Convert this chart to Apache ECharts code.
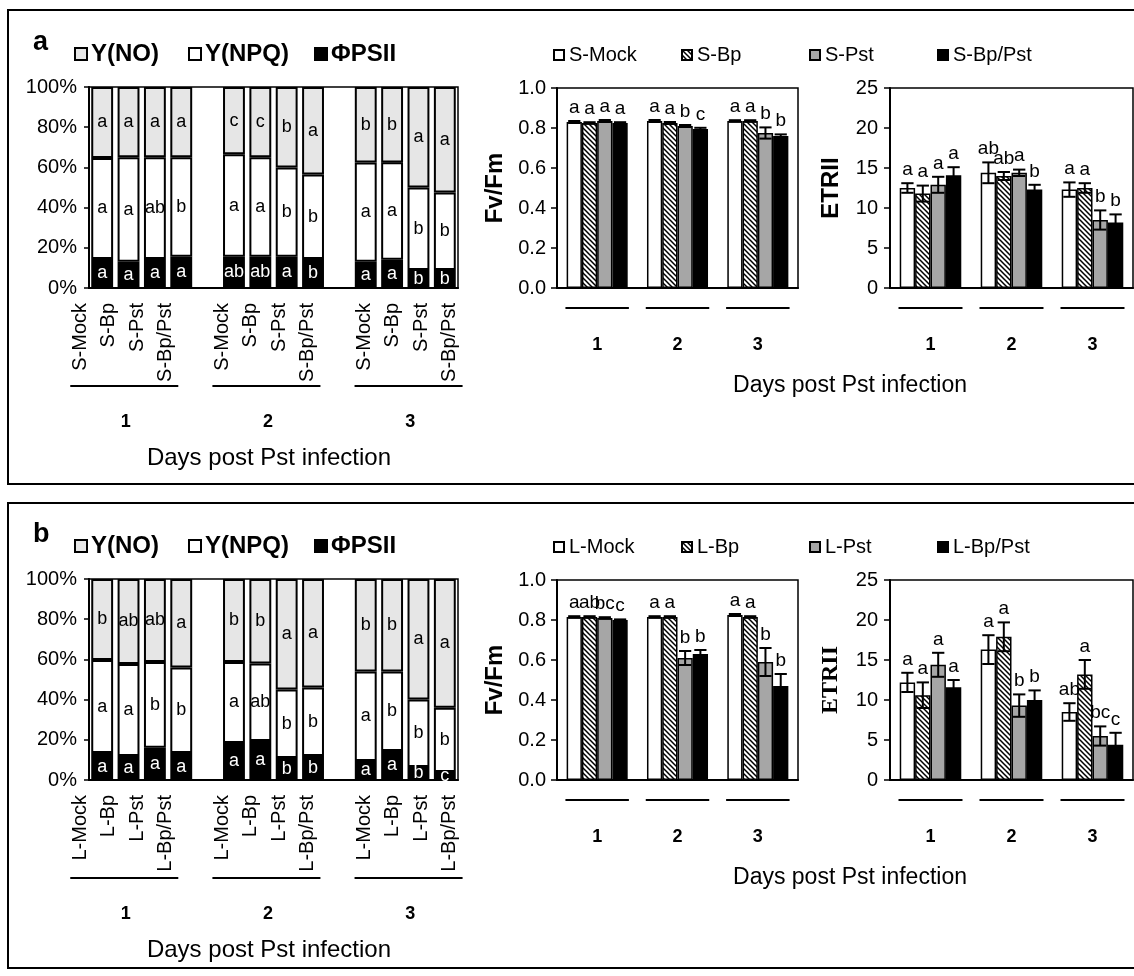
<!DOCTYPE html>
<html><head><meta charset="utf-8">
<script src="https://cdn.jsdelivr.net/npm/echarts@6/dist/echarts.min.js"></script>
<style>html,body{margin:0;padding:0;background:#fff}#c{width:1134px;height:976px}</style>
</head><body><div id="c"></div>
<script>
// ---------- DATA ----------
const stackCatsA = ['S-Mock','S-Bp','S-Pst','S-Bp/Pst','','S-Mock','S-Bp','S-Pst','S-Bp/Pst','','S-Mock','S-Bp','S-Pst','S-Bp/Pst'];
const stackCatsB = ['L-Mock','L-Bp','L-Pst','L-Bp/Pst','','L-Mock','L-Bp','L-Pst','L-Bp/Pst','','L-Mock','L-Bp','L-Pst','L-Bp/Pst'];
const groupNames = ['1','2','3'];
const groupStart = [0,5,10];
const groupEnd = [3,8,13];

// panel a stacked (%)
const psiiA = [14.4,13,14.4,15.5,'-',15.5,15.5,15.5,14.4,'-',13,14,9,9];
const npqA  = [50.3,52,50.6,49.5,'-',51,49.5,44.5,42.1,'-',49.5,48.5,41,38.5];
const noA   = [35.3,35,35,35,'-',33.5,35,40,43.5,'-',37.5,37.5,50,52.5];
const psiiLetA = ['a','a','a','a','','ab','ab','a','b','','a','a','b','b'];
const npqLetA  = ['a','a','ab','b','','a','a','b','b','','a','a','b','b'];
const noLetA   = ['a','a','a','a','','c','c','b','a','','b','b','a','a'];

// panel b stacked (%)
const psiiB = [13.4,12,16,13.4,'-',18.4,19.4,11,12,'-',9.5,14.4,6.5,4];
const npqB  = [46.3,45.7,42.7,42.6,'-',40.3,38.6,34,34,'-',44.5,39.6,33.5,32];
const noB   = [40.3,42.3,41.3,44,'-',41.3,42,55,54,'-',46,46,60,64];
const psiiLetB = ['a','a','a','a','','a','a','b','b','','a','a','b','c'];
const npqLetB  = ['a','a','b','b','','a','ab','b','b','','a','b','b','b'];
const noLetB   = ['b','ab','ab','a','','b','b','a','a','','b','b','a','a'];

const days = ['1','2','3'];

// panel a Fv/Fm
const fvA_Mock = [0.83,0.835,0.835],  fvA_MockErr = [0.005,0.005,0.004];
const fvA_Bp   = [0.825,0.825,0.835], fvA_BpErr   = [0.004,0.005,0.004];
const fvA_Pst  = [0.835,0.81,0.775],  fvA_PstErr  = [0.005,0.005,0.028];
const fvA_BpPst= [0.825,0.795,0.76],  fvA_BpPstErr= [0.004,0.006,0.008];
const fvA_Let  = [['a','a','a'],['a','a','a'],['a','b','b'],['a','c','b']];

// panel a ETRII
const etA_Mock = [12.5,14.4,12.3], etA_MockErr = [0.6,1.3,0.9];
const etA_Bp   = [11.8,14.0,12.5], etA_BpErr   = [1.0,0.5,0.6];
const etA_Pst  = [12.9,14.4,8.5],  etA_PstErr  = [1.0,0.4,1.2];
const etA_BpPst= [14.1,12.3,8.2],  etA_BpPstErr= [1.0,0.6,1.0];
const etA_Let  = [['a','ab','a'],['a','ab','a'],['a','a','b'],['a','b','b']];

// panel b Fv/Fm
const fvB_Mock = [0.815,0.815,0.825], fvB_MockErr = [0.004,0.004,0.005];
const fvB_Bp   = [0.815,0.815,0.815], fvB_BpErr   = [0.004,0.004,0.004];
const fvB_Pst  = [0.81,0.61,0.59],    fvB_PstErr  = [0.004,0.035,0.07];
const fvB_BpPst= [0.80,0.63,0.47],    fvB_BpPstErr= [0.003,0.02,0.06];
const fvB_Let  = [['a','a','a'],['ab','a','a'],['bc','b','b'],['c','b','b']];

// panel b ETRII
const etB_Mock = [12.2,16.3,8.5],  etB_MockErr = [1.2,1.8,1.1];
const etB_Bp   = [10.6,17.9,13.2], etB_BpErr   = [1.6,1.8,1.8];
const etB_Pst  = [14.4,9.3,5.5],   etB_PstErr  = [1.5,1.4,1.2];
const etB_BpPst= [11.6,10.0,4.4],  etB_BpPstErr= [0.9,1.2,1.5];
const etB_Let  = [['a','a','ab'],['a','a','a'],['a','b','bc'],['a','b','c']];

// ---------- STYLE / LAYOUT ----------
const FF = '"Liberation Sans", Arial, Helvetica, sans-serif';
const SERIF = '"Liberation Serif", "Times New Roman", serif';

function hatchCanvas(){
  const s = 5;
  const c = document.createElement('canvas'); c.width = s; c.height = s;
  const g = c.getContext('2d');
  g.fillStyle = '#fff'; g.fillRect(0,0,s,s);
  g.strokeStyle = '#000'; g.lineWidth = 1.5;
  g.beginPath();
  g.moveTo(-1,-1); g.lineTo(s+1,s+1);
  g.moveTo(-1,s-1); g.lineTo(1,s+1);
  g.moveTo(s-1,-1); g.lineTo(s+1,1);
  g.stroke();
  return c;
}
const HATCH = {image: hatchCanvas(), repeat: 'repeat'};
const barFills = ['#ffffff', HATCH, '#a6a6a6', '#000000'];
const CAT_GAP = 0.24;

const option = {animation:false, backgroundColor:'#fff', grid:[], xAxis:[], yAxis:[], series:[], legend:[], graphic:[]};

function errSeries(xi, yi, means, errs, letters){
  const data = [], lets = [];
  for (let c = 0; c < 3; c++) for (let j = 0; j < 4; j++) { data.push([c, j, means[j][c], errs[j][c]]); lets.push(letters[j][c]); }
  return {
    type:'custom', xAxisIndex:xi, yAxisIndex:yi, coordinateSystem:'cartesian2d', clip:false, silent:true, z:10,
    encode:{x:0, y:2}, data,
    renderItem:(params, api) => {
      const c = api.value(0), j = api.value(1), m = api.value(2), e = api.value(3);
      const bw = api.size([1,0])[0];
      const barW = bw * (1 - CAT_GAP) / 4;
      const cx = api.coord([c, m])[0] + (j - 1.5) * barW;
      const yt = api.coord([c, m + e])[1], yb = api.coord([c, m - e])[1];
      const h = barW * 0.4;
      const ls = {stroke:'#000', lineWidth:2};
      return {type:'group', children:[
        {type:'line', shape:{x1:cx, y1:yt, x2:cx, y2:yb}, style:ls},
        {type:'line', shape:{x1:cx-h, y1:yt, x2:cx+h, y2:yt}, style:ls},
        {type:'line', shape:{x1:cx-h, y1:yb, x2:cx+h, y2:yb}, style:ls},
        {type:'text', style:{text:lets[params.dataIndex], x:cx, y:yt-4, align:'center', verticalAlign:'bottom', fontSize:19, fontFamily:FF, fill:'#000'}}
      ]};
    }
  };
}

function underlineSeries(xi, yi){
  return {
    type:'custom', xAxisIndex:xi, yAxisIndex:yi, coordinateSystem:'cartesian2d', clip:false, silent:true,
    encode:{x:0, y:1}, data:[[0,0],[1,0],[2,0]],
    renderItem:(params, api) => {
      const p = api.coord([api.value(0), 0]);
      const bw = api.size([1,0])[0];
      return {type:'line', shape:{x1:p[0]-0.395*bw, y1:p[1]+20, x2:p[0]+0.395*bw, y2:p[1]+20}, style:{stroke:'#000', lineWidth:2}};
    }
  };
}

function addPanel(P){
  const dy = P.dy;
  const g0 = option.grid.length, xi = option.xAxis.length, yi = option.yAxis.length;
  option.grid.push({left:89, top:87+dy, width:369, height:201, show:true, borderColor:'#000', borderWidth:1.5});
  option.grid.push({left:66, top:87+dy, width:398, height:201, show:false});
  option.grid.push({left:557, top:88+dy, width:241, height:200, show:true, borderColor:'#000', borderWidth:1.5});
  option.grid.push({left:890, top:88+dy, width:243, height:200, show:true, borderColor:'#000', borderWidth:1.5});

  const axLine = {show:true, lineStyle:{color:'#000', width:2}};
  // stacked main
  option.xAxis.push({gridIndex:g0, type:'category', data:P.cats, axisLine:axLine, axisTick:{show:false}, axisLabel:{show:false}});
  option.yAxis.push({gridIndex:g0, type:'value', min:0, max:100, interval:20, axisLine:axLine,
    axisTick:{show:true, length:5, lineStyle:{color:'#000', width:1.5}}, splitLine:{show:false},
    axisLabel:{formatter:'{value}%', fontSize:20, fontFamily:FF, color:'#000', margin:12}});
  // label grid
  option.xAxis.push({gridIndex:g0+1, type:'category', data:P.cats, axisLine:{show:false}, axisTick:{show:false},
    axisLabel:{interval:0, rotate:90, margin:15, fontSize:20, fontFamily:FF, color:'#000'}});
  option.yAxis.push({gridIndex:g0+1, type:'value', min:0, max:100, show:false});
  // Fv/Fm
  option.xAxis.push({gridIndex:g0+2, type:'category', data:days, axisLine:axLine, axisTick:{show:false},
    axisLabel:{margin:48, fontSize:18, fontWeight:'bold', fontFamily:FF, color:'#000'}});
  option.yAxis.push({gridIndex:g0+2, type:'value', min:0, max:1, interval:0.2, axisLine:axLine,
    axisTick:{show:true, length:6, lineStyle:{color:'#000', width:1.5}}, splitLine:{show:false},
    axisLabel:{formatter:v => v.toFixed(1), fontSize:20, fontFamily:FF, color:'#000', margin:11},
    name:'Fv/Fm', nameLocation:'middle', nameGap:50, nameTextStyle:{fontSize:24, fontWeight:'bold', fontFamily:FF, color:'#000'}});
  // ETRII
  option.xAxis.push({gridIndex:g0+3, type:'category', data:days, axisLine:axLine, axisTick:{show:false},
    axisLabel:{margin:48, fontSize:18, fontWeight:'bold', fontFamily:FF, color:'#000'}});
  option.yAxis.push({gridIndex:g0+3, type:'value', min:0, max:25, interval:5, axisLine:axLine,
    axisTick:{show:true, length:6, lineStyle:{color:'#000', width:1.5}}, splitLine:{show:false},
    axisLabel:{fontSize:20, fontFamily:FF, color:'#000', margin:12},
    name:'ETRII', nameLocation:'middle', nameGap:47, nameTextStyle:{fontSize:24, fontWeight:'bold', fontFamily:P.etrFont, color:'#000'}});

  // stacked series (bottom to top)
  [['ΦPSII', P.psii, '#000', P.psiiLet, '#fff'],
   ['Y(NPQ)', P.npq, '#fff', P.npqLet, '#000'],
   ['Y(NO)', P.no, '#e6e6e6', P.noLet, '#000']].forEach(([name, data, color, lets, lc]) => {
    option.series.push({type:'bar', name, xAxisIndex:xi, yAxisIndex:yi, stack:'st'+P.tag, data, barWidth:'83%',
      itemStyle:{color, borderColor:'#000', borderWidth:2},
      label:{show:true, position:'inside', formatter:p => lets[p.dataIndex], color:lc, fontSize:18, fontFamily:FF}});
  });
  // group lines + numbers under stacked labels
  option.series.push({
    type:'custom', xAxisIndex:xi+1, yAxisIndex:yi+1, coordinateSystem:'cartesian2d', clip:false, silent:true,
    encode:{x:0, y:2}, data: groupNames.map((n, k) => [groupStart[k], groupEnd[k], 0]),
    renderItem:(params, api) => {
      const p0 = api.coord([api.value(0), 0]), p1 = api.coord([api.value(1), 0]);
      const bw = api.size([1,0])[0];
      return {type:'group', children:[
        {type:'line', shape:{x1:p0[0]-0.35*bw, y1:p0[1]+98, x2:p1[0]+0.45*bw, y2:p0[1]+98}, style:{stroke:'#000', lineWidth:2}},
        {type:'text', style:{text:groupNames[params.dataIndex], x:(p0[0]+p1[0])/2+3, y:p0[1]+134, align:'center', verticalAlign:'middle', fontSize:18, fontWeight:'bold', fontFamily:FF, fill:'#000'}}
      ]};
    }
  });

  // bar charts
  const names = P.barNames;
  [[xi+2, yi+2, P.fv, P.fvErr, P.fvLet], [xi+3, yi+3, P.et, P.etErr, P.etLet]].forEach(([x, y, means, errs, lets]) => {
    means.forEach((d, j) => {
      option.series.push({type:'bar', name:names[j], xAxisIndex:x, yAxisIndex:y, data:d, barGap:'0%', barCategoryGap:'24%',
        itemStyle:{color:barFills[j], borderColor:'#000', borderWidth:1.5}});
    });
    option.series.push(errSeries(x, y, means, errs, lets));
    option.series.push(underlineSeries(x, y));
  });

  // legends
  [['Y(NO)',74],['Y(NPQ)',188],['ΦPSII',314]].forEach(([n, x]) => option.legend.push({
    data:[{name:n, icon:'rect'}], left:x, top:42+dy, padding:0, itemWidth:12, itemHeight:12, itemGap:0, selectedMode:false,
    textStyle:{fontSize:24, fontWeight:'bold', fontFamily:FF, color:'#000', padding:[0,0,0,-1]}}));
  [553,681,809,937].forEach((x, j) => option.legend.push({
    data:[{name:names[j], icon:'rect'}], left:x, top:45+dy, padding:0, itemWidth:10, itemHeight:10, itemGap:0, selectedMode:false,
    textStyle:{fontSize:20, fontFamily:FF, color:'#000'}}));

  // decorations
  option.graphic.push({type:'rect', shape:{x:8, y:10+dy+P.boxDy, width:1140, height:P.boxH}, style:{fill:'none', stroke:'#000', lineWidth:2}, silent:true});
  option.graphic.push({type:'text', x:33, y:56+dy, style:{text:P.tag, font:'bold 27px '+FF, fill:'#000', verticalAlign:'bottom', textVerticalAlign:'bottom'}});
  option.graphic.push({type:'text', x:269, y:458+dy, style:{text:'Days post Pst infection', font:'24px '+FF, fill:'#000', align:'center', textAlign:'center', verticalAlign:'middle', textVerticalAlign:'middle'}});
  option.graphic.push({type:'text', x:850, y:386+dy, style:{text:'Days post Pst infection', font:'23px '+FF, fill:'#000', align:'center', textAlign:'center', verticalAlign:'middle', textVerticalAlign:'middle'}});
}

addPanel({dy:0, tag:'a', boxDy:0, boxH:474, cats:stackCatsA, psii:psiiA, npq:npqA, no:noA, psiiLet:psiiLetA, npqLet:npqLetA, noLet:noLetA,
  barNames:['S-Mock','S-Bp','S-Pst','S-Bp/Pst'],
  fv:[fvA_Mock, fvA_Bp, fvA_Pst, fvA_BpPst], fvErr:[fvA_MockErr, fvA_BpErr, fvA_PstErr, fvA_BpPstErr], fvLet:fvA_Let,
  et:[etA_Mock, etA_Bp, etA_Pst, etA_BpPst], etErr:[etA_MockErr, etA_BpErr, etA_PstErr, etA_BpPstErr], etLet:etA_Let, etrFont:FF});
addPanel({dy:492, tag:'b', boxDy:1, boxH:465, cats:stackCatsB, psii:psiiB, npq:npqB, no:noB, psiiLet:psiiLetB, npqLet:npqLetB, noLet:noLetB,
  barNames:['L-Mock','L-Bp','L-Pst','L-Bp/Pst'],
  fv:[fvB_Mock, fvB_Bp, fvB_Pst, fvB_BpPst], fvErr:[fvB_MockErr, fvB_BpErr, fvB_PstErr, fvB_BpPstErr], fvLet:fvB_Let,
  et:[etB_Mock, etB_Bp, etB_Pst, etB_BpPst], etErr:[etB_MockErr, etB_BpErr, etB_PstErr, etB_BpPstErr], etLet:etB_Let, etrFont:SERIF});

const chart = echarts.init(document.getElementById('c'), null, {renderer:'canvas'});
chart.setOption(option);
</script>
</body></html>
